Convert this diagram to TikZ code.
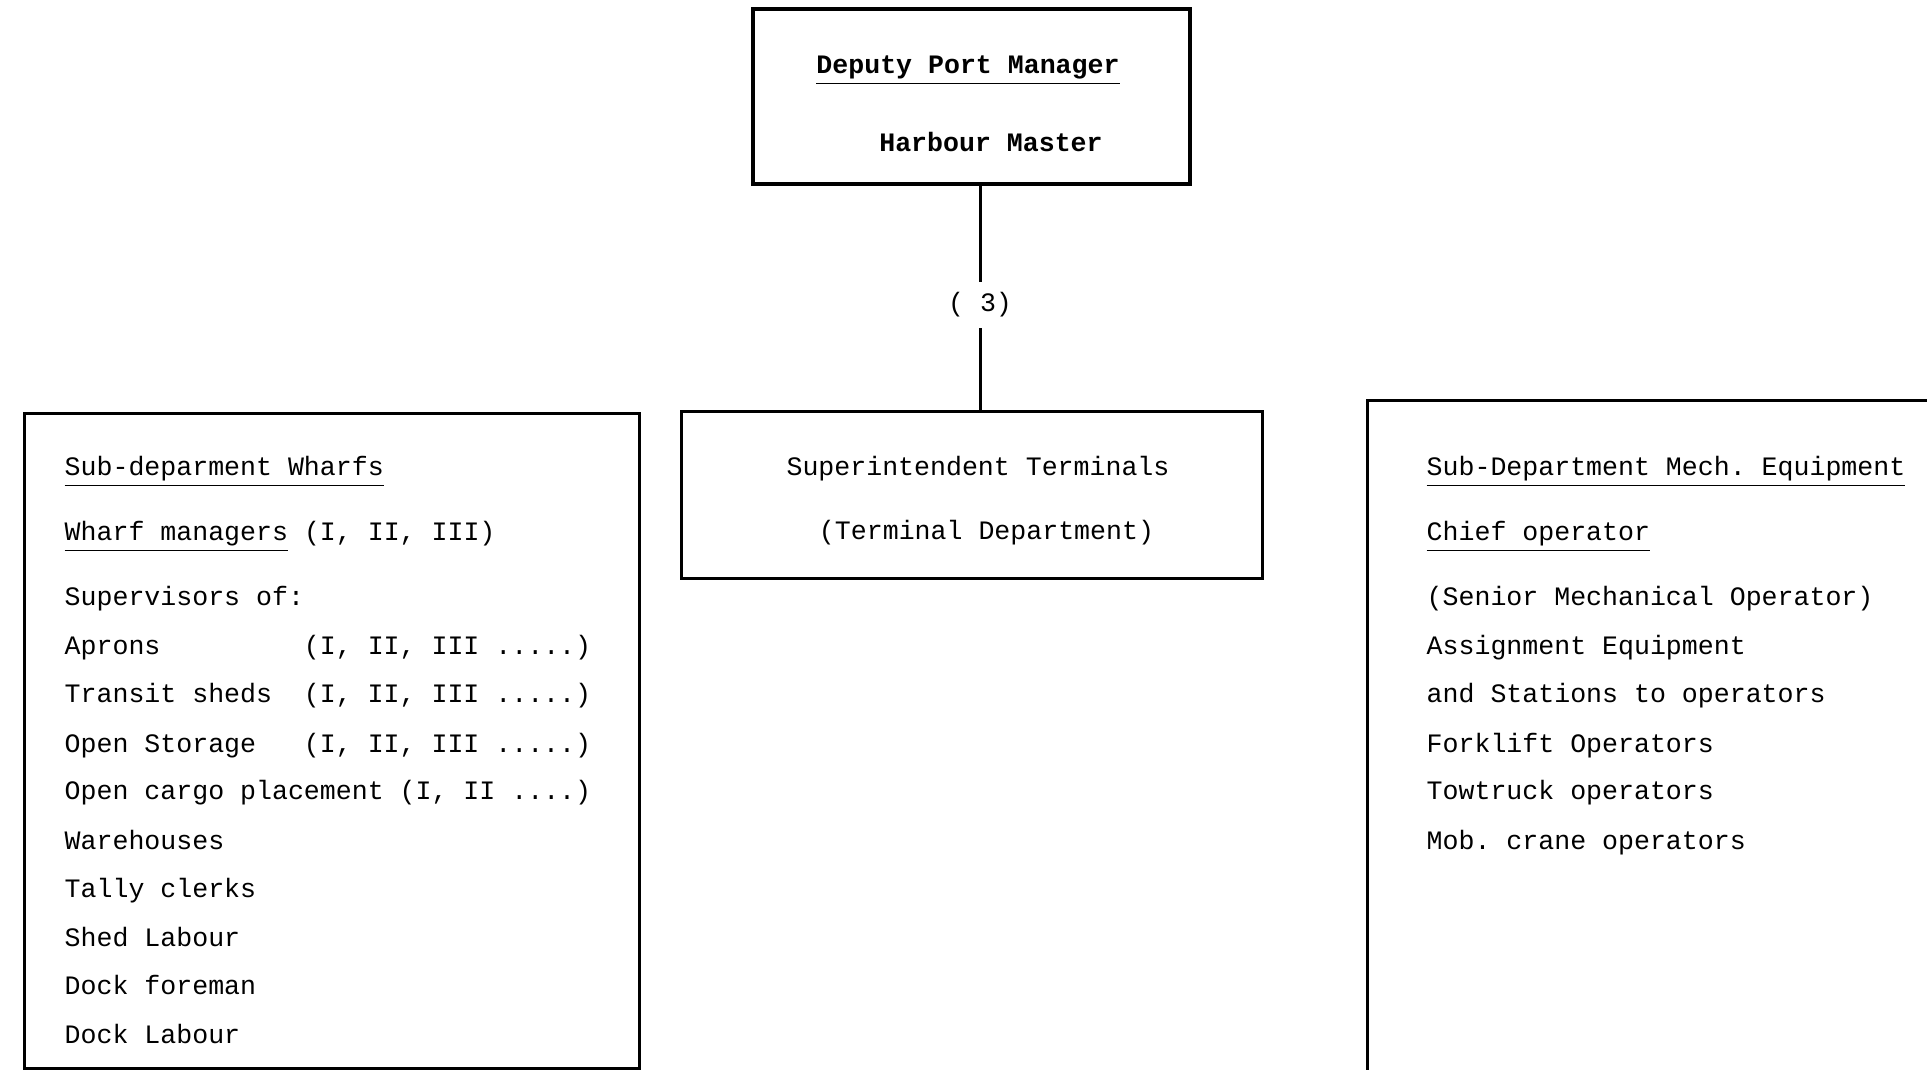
\documentclass[tikz,border=0pt]{standalone}
\usepackage{fontspec}
\setmonofont{Liberation Mono}
\frenchspacing
\tikzset{
    org box/.style={draw,line width=0.85pt,inner sep=0pt},
    box text/.style={anchor=base west,inner sep=0pt,font=\ttfamily\fontsize{7.56}{9}\selectfont},
    plain text/.style={anchor=base,inner sep=0pt,font=\ttfamily\fontsize{7.56}{9}\selectfont},
    title text/.style={anchor=base,inner sep=0pt,font=\ttfamily\bfseries\fontsize{7.56}{9}\selectfont},
    org line/.style={line width=0.85pt}
}

\begin{document}
\begin{tikzpicture}[x=0.01cm,y=-0.01cm]
\clip (0,0) rectangle (1927,1069);

% ========= Deputy Port Manager =========
\node[org box,line width=1pt,minimum width=4.37cm,minimum height=1.75cm] (dpm) at (971.5,96.5) {};
\node[title text] (dpmname) at (968,73) {\underline{Deputy Port Manager}};
\node[title text] (hm) at (991,151) {Harbour Master};

% ========= Superintendent Terminals =========
\node[org box,minimum width=5.8cm,minimum height=1.66cm] (sup) at (972,495) {};
\node[plain text] (supname) at (978,475) {Superintendent Terminals};
\node[plain text] (supdept) at (986.5,539) {(Terminal Department)};

% == link ==%
\node[plain text,anchor=center,inner sep=0.1cm] (three) at (980,305) {( 3)};
\draw[org line] (dpm.south -| three.north) -- (three.north);
\draw[org line] (three.south) -- (sup.north -| three.south);

% ========= Sub-department Wharfs =========
\node[org box,anchor=north west,minimum width=6.15cm,minimum height=6.55cm] (wharfs) at (23,412) {};
\foreach \y/\t [count=\i] in {
    475/{\underline{Sub-deparment Wharfs}},
    540/{\underline{Wharf managers} (I, II, III)},
    605/{Supervisors of:},
    654/{\makebox[9em][l]{Aprons}(I, II, III .....)},
    702/{\makebox[9em][l]{Transit sheds}(I, II, III .....)},
    752/{\makebox[9em][l]{Open Storage}(I, II, III .....)},
    799/{Open cargo placement (I, II ....)},
    849/{Warehouses},
    897/{Tally clerks},
    946/{Shed Labour},
    994/{Dock foreman},
    1043/{Dock Labour}}
{
    \node[box text] (wl\i) at (64,\y) {\t};
}

% ========= Sub-Department Mech. Equipment =========
\node[org box,anchor=north west,minimum width=6.3cm,minimum height=7cm] (mech) at (1366,399) {};
\foreach \y/\t [count=\i] in {
    475/{\underline{Sub-Department Mech. Equipment}},
    540/{\underline{Chief operator}},
    605/{(Senior Mechanical Operator)},
    654/{Assignment Equipment},
    702/{and Stations to operators},
    752/{Forklift Operators},
    799/{Towtruck operators},
    849/{Mob. crane operators}}
{
    \node[box text] (ml\i) at (1426,\y) {\t};
}

\end{tikzpicture}
\end{document}
